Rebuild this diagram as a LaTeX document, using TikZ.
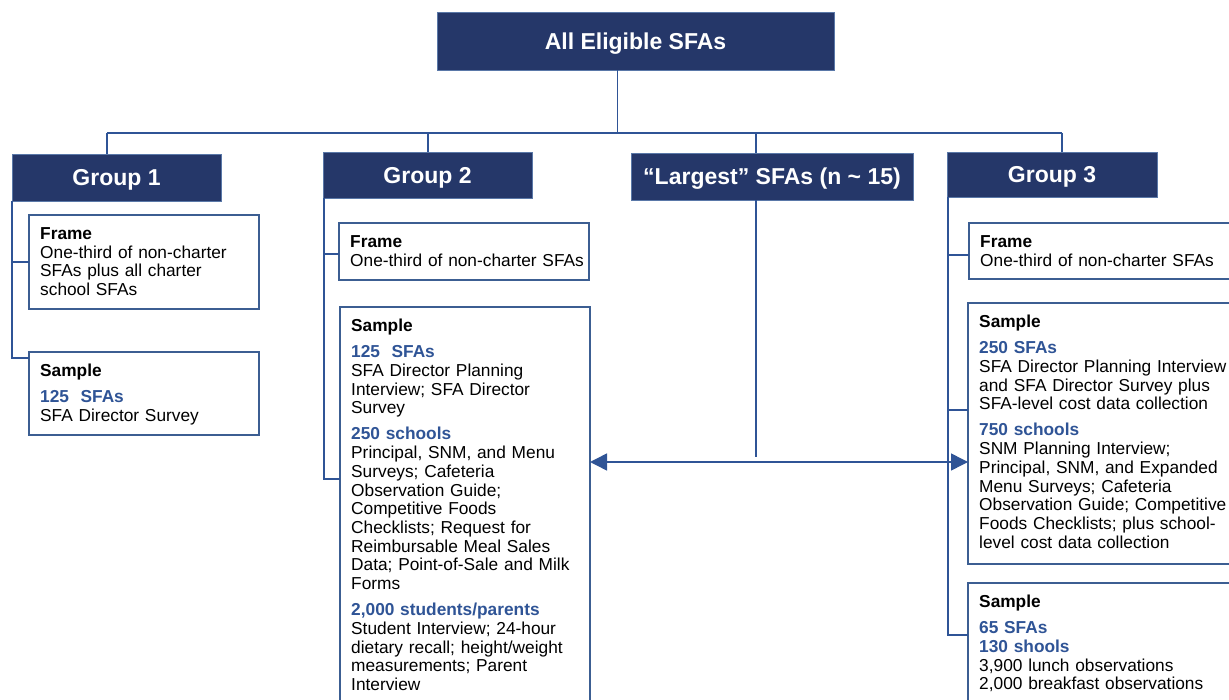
\documentclass[tikz,border=0pt]{standalone}
\usepackage{fontspec}
\setmainfont{Liberation Sans}
\usetikzlibrary{arrows.meta}
\definecolor{navy}{HTML}{253769}
\definecolor{hdrborder}{HTML}{5A78A8}
\definecolor{boxborder}{HTML}{3C5E92}
\definecolor{conncol}{HTML}{2F5496}
\definecolor{txtblue}{HTML}{2F5496}
\newcommand\bluetxt[1]{\textcolor{txtblue}{\textbf{#1}}}
\begin{document}
\begin{tikzpicture}[x=1pt,y=-1pt,
 hdr/.style={rectangle, fill=navy, draw=hdrborder, line width=0.8pt, inner sep=0pt, outer sep=0pt, text=white, text depth=0pt, font=\fontsize{23}{27}\selectfont\bfseries},
 infobox/.style={rectangle, draw=boxborder, line width=1.3pt, fill=white, inner sep=0pt, outer sep=0pt},
 infotext/.style={anchor=base west, inner sep=0pt, text width=300pt, align=left, font=\fontsize{17.3}{18.7}\selectfont},
 conn/.style={draw=conncol, line width=1.5pt},
 dblarrow/.style={{Triangle[length=17pt,width=17pt]}-{Triangle[length=17pt,width=17pt]}},
]
\useasboundingbox (0,0) rectangle (1229,700);
\clip (0,0) rectangle (1229,700);

% headers
\node[hdr, minimum width=397pt, minimum height=58pt] (top) at (635.5,41) {All Eligible SFAs};
\node[hdr, minimum width=209pt, minimum height=47pt] (g1h) at (116.5,177.5) {Group 1};
\node[hdr, minimum width=209pt, minimum height=46pt] (g2h) at (427.5,175) {Group 2};
\node[hdr, minimum width=282pt, minimum height=47pt] (lgh) at (772,176.5) {“Largest” SFAs (n \textasciitilde{} 15)};
\node[hdr, minimum width=210pt, minimum height=45pt] (g3h) at (1052,174.5) {Group 3};

% boxes
\node[infobox, minimum width=230pt, minimum height=94pt] (g1f) at (144,262) {};
\node[infobox, minimum width=230pt, minimum height=83pt] (g1s) at (144,393.5) {};
\node[infobox, minimum width=250pt, minimum height=57pt] (g2f) at (464,251.5) {};
\node[infobox, minimum width=250pt, minimum height=413pt] (g2s) at (465,513.5) {};
\node[infobox, minimum width=281pt, minimum height=56pt] (g3f) at (1109.5,251) {};
\node[infobox, minimum width=282pt, minimum height=261pt] (g3s1) at (1109,433.5) {};
\node[infobox, minimum width=282pt, minimum height=137pt] (g3s2) at (1109,651.5) {};

% texts
\node[infotext] (g1ft) at ([xshift=11pt,yshift=-24.5pt]g1f.north west)
 {\textbf{Frame}\\One-third of non-charter\\SFAs plus all charter\\school SFAs};
\node[infotext] (g1st) at ([xshift=11pt,yshift=-24.5pt]g1s.north west)
 {\textbf{Sample}\\[7.5pt]\bluetxt{125\ \ SFAs}\\SFA Director Survey};
\node[infotext] (g2ft) at ([xshift=11pt,yshift=-24.5pt]g2f.north west)
 {\textbf{Frame}\\One-third of non-charter SFAs};
\node[infotext] (g2st) at ([xshift=11pt,yshift=-24.5pt]g2s.north west)
 {\textbf{Sample}\\[7.5pt]\bluetxt{125\ \ SFAs}\\SFA Director Planning\\Interview; SFA Director\\Survey\\[7.5pt]%
 \bluetxt{250 schools}\\Principal, SNM, and Menu\\Surveys; Cafeteria\\Observation Guide;\\Competitive Foods\\Checklists; Request for\\Reimbursable Meal Sales\\Data; Point-of-Sale and Milk\\Forms\\[7.5pt]%
 \bluetxt{2,000 students/parents}\\Student Interview; 24-hour\\dietary recall; height/weight\\measurements; Parent\\Interview};
\node[infotext] (g3ft) at ([xshift=11pt,yshift=-24.5pt]g3f.north west)
 {\textbf{Frame}\\One-third of non-charter SFAs};
\node[infotext] (g3s1t) at ([xshift=11pt,yshift=-24.5pt]g3s1.north west)
 {\textbf{Sample}\\[7.5pt]\bluetxt{250 SFAs}\\SFA Director Planning Interview\\and SFA Director Survey plus\\SFA-level cost data collection\\[7.5pt]%
 \bluetxt{750 schools}\\SNM Planning Interview;\\Principal, SNM, and Expanded\\Menu Surveys; Cafeteria\\Observation Guide; Competitive\\Foods Checklists; plus school-\\level cost data collection};
\node[infotext] (g3s2t) at ([xshift=11pt,yshift=-24.5pt]g3s2.north west)
 {\textbf{Sample}\\[7.5pt]\bluetxt{65 SFAs}\\\bluetxt{130 shools}\\3,900 lunch observations\\2,000 breakfast observations};

% bus coordinates
\coordinate (bus) at (617.7,133);
\coordinate (b1) at (107,133);
\coordinate (b2) at (428,133);
\coordinate (b3) at (756,133);
\coordinate (b4) at (1062,133);
\draw[conn] (bus |- top.south) -- (bus);
\draw[conn] (b1) -- (b4);
\draw[conn] (b1) -- (b1 |- g1h.north);
\draw[conn] (b2) -- (b2 |- g2h.north);
\draw[conn] (b3) -- (b3 |- lgh.north);
\draw[conn] (b4) -- (b4 |- g3h.north);

% group 1 spine
\coordinate (s1) at (12,358);
\draw[conn] (s1 |- g1h.south) -- (s1) -- (s1 -| g1s.west);
\draw[conn] (s1 |- g1f.west) -- (g1f.west);

% group 2 spine
\coordinate (s2) at (324,479);
\coordinate (s2f) at (324,254);
\draw[conn] (s2 |- g2h.south) -- (s2) -- (s2 -| g2s.west);
\draw[conn] (s2f) -- (s2f -| g2f.west);

% group 3 spine
\coordinate (s3) at (948,635);
\coordinate (s3f) at (948,255);
\coordinate (s3a) at (948,410);
\draw[conn] (s3 |- g3h.south) -- (s3) -- (s3 -| g3s2.west);
\draw[conn] (s3f) -- (s3f -| g3f.west);
\draw[conn] (s3a) -- (s3a -| g3s1.west);

% largest SFAs
\coordinate (lend) at (756,457);
\coordinate (arr) at (756,462);
\draw[conn] (lend |- lgh.south) -- (lend);
\draw[conn, fill=conncol, dblarrow] (arr -| g2s.east) -- (arr -| g3s1.west);
\end{tikzpicture}
\end{document}
